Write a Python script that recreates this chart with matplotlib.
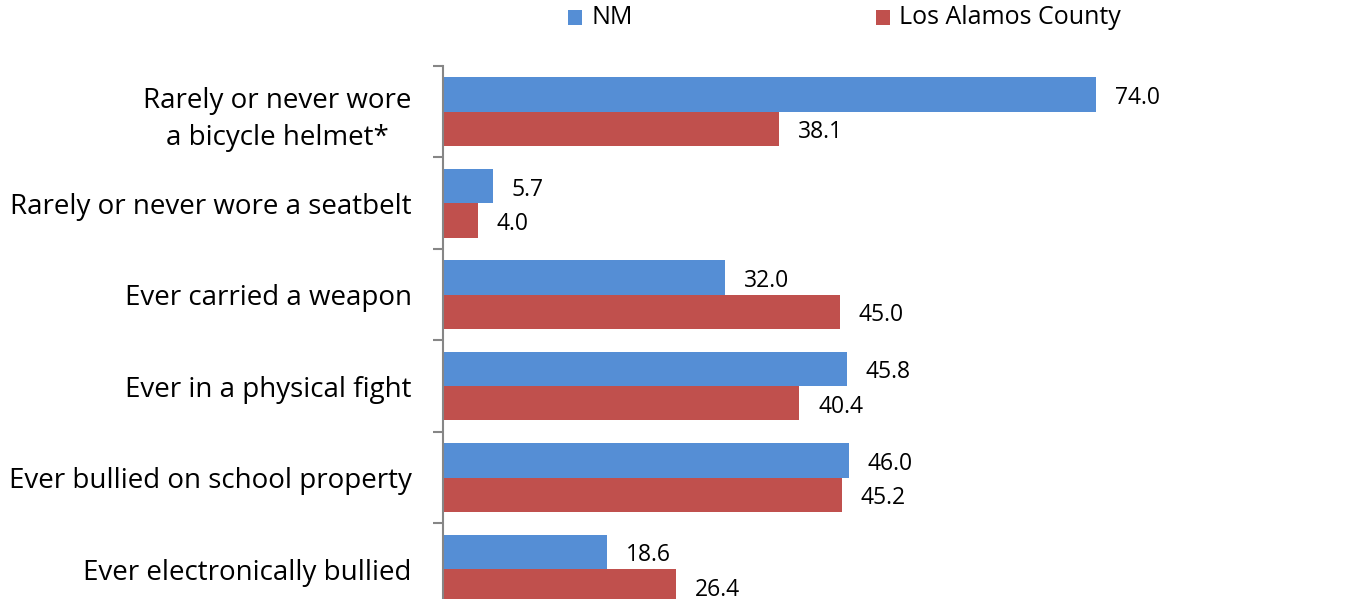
import matplotlib
matplotlib.use("Agg")
import matplotlib.pyplot as plt
import numpy as np
from matplotlib.patches import Rectangle

categories = ["Rarely or never wore\na bicycle helmet*",
              "Rarely or never wore a seatbelt",
              "Ever carried a weapon",
              "Ever in a physical fight",
              "Ever bullied on school property",
              "Ever electronically bullied"]
nm_values = [74.0, 5.7, 32.0, 45.8, 46.0, 18.6]
la_values = [38.1, 4.0, 45.0, 40.4, 45.2, 26.4]
series_names = ["NM", "Los Alamos County"]
colors = ["#558ED5", "#C0504D"]

plt.rcParams['font.family'] = ['Open Sans', 'DejaVu Sans']

W, H = 1356, 599
fig = plt.figure(figsize=(W/100, H/100), dpi=100)
ax = fig.add_axes([442.7/W, -15.8/H, 883/W, 548.8/H])

y = np.arange(len(categories))
h = 0.375
b1 = ax.barh(y - h/2, nm_values, height=h, color=colors[0], label=series_names[0])
b2 = ax.barh(y + h/2, la_values, height=h, color=colors[1], label=series_names[1])
for bars, vals in ((b1, nm_values), (b2, la_values)):
    for rect, v in zip(bars, vals):
        ax.annotate(f"{v:.1f}", xy=(rect.get_width(), rect.get_y() + rect.get_height()/2),
                    xytext=(13.5, -2.5), textcoords="offset points",
                    ha="left", va="center", fontsize=16.5, color="black")

ax.set_xlim(0, 100)
ax.set_ylim(len(categories) - 0.5, -0.5)

for s in ["top", "right", "bottom"]:
    ax.spines[s].set_visible(False)
ax.spines["left"].set_color("#868686")
ax.spines["left"].set_linewidth(1.5)
ax.set_xticks([])
ax.set_yticks(np.arange(len(categories) + 1) - 0.5)
ax.set_yticklabels([])
ax.tick_params(axis="y", which="major", length=7.2, width=1.5, color="#868686")
ax.set_yticks(y, minor=True)
ax.set_yticklabels(categories, minor=True, fontsize=20, multialignment="center", linespacing=1.4)
ax.tick_params(axis="y", which="minor", length=0, pad=22.3)

# legend
sq = 14
for name, col, x0 in zip(series_names, colors, [568, 876]):
    fig.add_artist(Rectangle((x0/W, (H - 24.5)/H), sq/W, sq/H, transform=fig.transFigure,
                             facecolor=col, edgecolor="none"))
    fig.text((x0 + sq + 9)/W, (H - 17.5)/H, name, fontsize=18, va="center", ha="left")

fig.savefig("out.png", dpi=100)
